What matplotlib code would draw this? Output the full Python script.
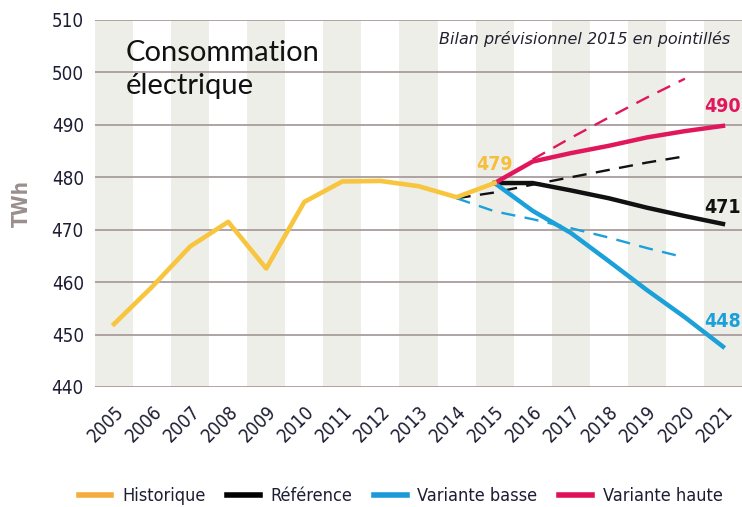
"""Consommation electrique - historique et variantes."""
import matplotlib

matplotlib.use("Agg")

import matplotlib.pyplot as plt
from matplotlib.lines import Line2D

# historique
years_hist = [2005, 2006, 2007, 2008, 2009, 2010, 2011, 2012, 2013, 2014, 2015]
hist = [452.0, 459.1, 466.8, 471.5, 462.6, 475.3, 479.2, 479.3, 478.3, 476.2, 478.9]

# previsions 2016 (traits pleins)
years_prev = [2015, 2016, 2017, 2018, 2019, 2020, 2021]
reference = [478.9, 478.9, 477.5, 476.0, 474.2, 472.6, 471.1]
basse = [478.9, 473.6, 469.4, 464.0, 458.5, 453.3, 447.7]
haute = [478.9, 483.0, 484.6, 486.0, 487.6, 488.8, 489.8]

# bilan previsionnel 2015 (pointilles)
years_bp = [2014, 2015, 2016, 2017, 2018, 2019, 2020]
bp_reference = [476.0, 477.1, 478.6, 480.0, 481.4, 482.8, 484.0]
bp_basse = [476.0, 473.5, 472.0, 470.3, 468.5, 466.5, 464.7]
years_bp_haute = [2016, 2017, 2018, 2019, 2020]
bp_haute = [483.4, 487.5, 491.4, 495.2, 498.8]

yticks = [440, 450, 460, 470, 480, 490, 500, 510]
xticks = list(range(2005, 2022))

C_HIST = "#f7c53e"
C_REF = "#111111"
C_BASSE = "#1ba0d9"
C_HAUTE = "#e1175e"
C_TXT = "#1d1d33"

plt.rcParams["font.family"] = ["DejaVu Sans"]
plt.rcParams["font.stretch"] = "condensed"

fig = plt.figure(figsize=(7.42, 5.07), dpi=100)
ax = fig.add_axes([0.128, 0.2367, 0.872, 0.7239])

# bandes grises une annee sur deux
for y in xticks[::2]:
    ax.axvspan(y - 0.5, y + 0.5, color="#eeeee9", lw=0, zorder=0)
for v in yticks:
    ax.axhline(v, color="#a99c9c", lw=1.3, zorder=1)

ax.plot(years_bp, bp_reference, color=C_REF, lw=1.7, dashes=(6, 4), zorder=2)
ax.plot(years_bp, bp_basse, color=C_BASSE, lw=1.7, dashes=(6, 4), zorder=2)
ax.plot(years_bp_haute, bp_haute, color=C_HAUTE, lw=1.7, dashes=(6, 4), zorder=2)

ax.plot(years_prev, reference, color=C_REF, lw=3.2, zorder=3)
ax.plot(years_prev, basse, color=C_BASSE, lw=3.2, zorder=3)
ax.plot(years_prev, haute, color=C_HAUTE, lw=3.2, zorder=3)
ax.plot(years_hist, hist, color=C_HIST, lw=3.3, zorder=4)

# valeurs
ax.text(years_hist[-1], hist[-1] + 1.8, f"{hist[-1]:.0f}", color="#f5bf3c",
        fontsize=14, fontweight="bold", ha="center", va="bottom")
ax.text(years_prev[-1], haute[-1] + 1.8, f"{haute[-1]:.0f}", color=C_HAUTE,
        fontsize=14, fontweight="bold", ha="center", va="bottom")
ax.text(years_prev[-1], reference[-1] + 1.3, f"{reference[-1]:.0f}", color=C_REF,
        fontsize=14, fontweight="bold", ha="center", va="bottom")
ax.text(years_prev[-1], basse[-1] + 3.0, f"{basse[-1]:.0f}", color=C_BASSE,
        fontsize=14, fontweight="bold", ha="center", va="bottom")

ax.text(2005.3, 506.2, "Consommation\nélectrique", fontsize=21,
        family="Lato", stretch="normal", color="#111111", ha="left", va="top",
        linespacing=1.35)
ax.text(2021.2, 506.3, "Bilan prévisionnel 2015 en pointillés", fontsize=11.5,
        style="italic", stretch="normal", color="#222230", ha="right", va="center")

ax.set_xlim(2004.5, 2021.5)
ax.set_ylim(440, 510)
ax.set_yticks(yticks)
ax.set_xticks(xticks)
ax.set_xticklabels([str(y) for y in xticks], rotation=45, ha="right",
                   va="top", rotation_mode="anchor")
ax.tick_params(axis="both", length=0, labelsize=13.5, colors=C_TXT)
ax.tick_params(axis="x", pad=11)
ax.tick_params(axis="y", pad=8)
for s in ax.spines.values():
    s.set_visible(False)
ax.set_ylabel("TWh", color="#9a8e8e", fontsize=15, fontweight="bold", labelpad=14)

handles = [
    Line2D([], [], color="#f6ac3c", lw=4),
    Line2D([], [], color="#000000", lw=4),
    Line2D([], [], color="#1a9ad6", lw=4),
    Line2D([], [], color="#e0105a", lw=4),
]
labels = ["Historique", "Référence", "Variante basse", "Variante haute"]
fig.legend(handles, labels, loc="center", bbox_to_anchor=(0.54, 0.022),
           ncol=4, frameon=False, fontsize=13, handlelength=1.8,
           handletextpad=0.6, columnspacing=1.2, labelcolor=C_TXT)

fig.savefig("out.png", dpi=100)
